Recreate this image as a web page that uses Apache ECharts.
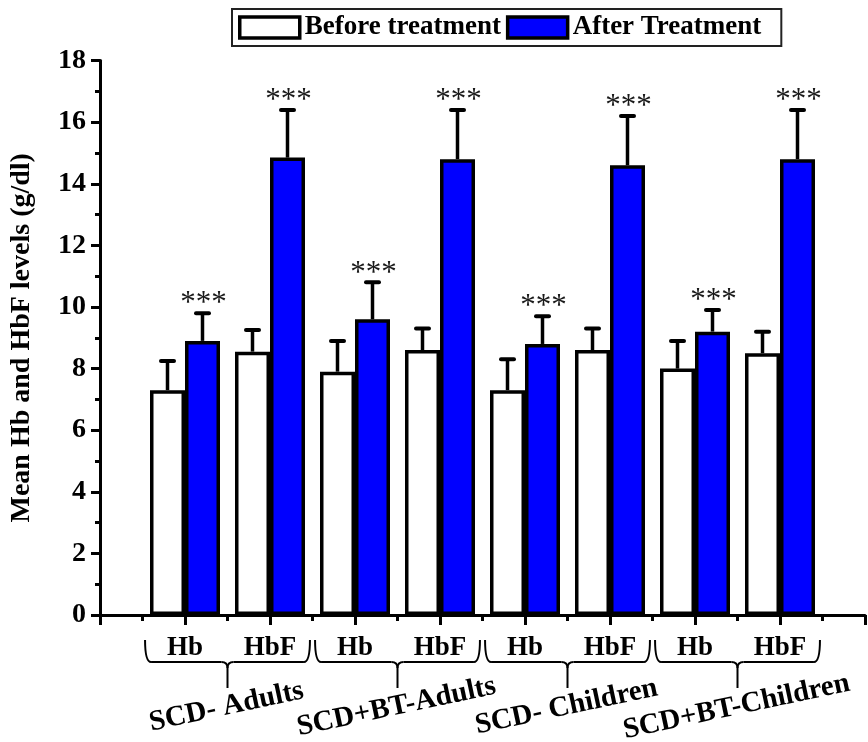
<!DOCTYPE html>
<html>
<head>
<meta charset="utf-8">
<script src="https://cdn.jsdelivr.net/npm/echarts@6/dist/echarts.min.js"></script>
<style>html,body{margin:0;padding:0;background:#fff}#c{width:868px;height:742px}</style>
</head>
<body>
<div id="c"></div>
<script>
const categories = ['Hb', 'HbF', 'Hb', 'HbF', 'Hb', 'HbF', 'Hb', 'HbF'];
const groupNames = ['SCD- Adults', 'SCD+BT-Adults', 'SCD- Children', 'SCD+BT-Children'];
const seriesNames = ['Before treatment', 'After Treatment'];
const beforeMean = [7.3, 8.55, 7.9, 8.6, 7.3, 8.6, 8.0, 8.5];
const beforeErrTop = [8.25, 9.25, 8.9, 9.3, 8.3, 9.3, 8.9, 9.2];
const afterMean = [8.9, 14.85, 9.6, 14.8, 8.8, 14.6, 9.2, 14.8];
const afterErrTop = [9.8, 16.4, 10.8, 16.4, 9.7, 16.2, 9.9, 16.4];
const significance = ['***', '***', '***', '***', '***', '***', '***', '***'];
const yMin = 0, yMax = 18, yStep = 2;

const FONT = '"Liberation Serif", "Times New Roman", serif';
const BW = 35;

const chart = echarts.init(document.getElementById('c'));

function errRenderer(offset, withStars) {
  return function (params, api) {
    const x = api.value(0), m = api.value(1), t = api.value(2);
    const pb = api.coord([x, m]);
    const pt = api.coord([x, t]);
    const cx = pb[0] + offset;
    const children = [
      { type: 'line', shape: { x1: cx, y1: pb[1], x2: cx, y2: pt[1] },
        style: { stroke: '#000', lineWidth: 3.5 } },
      { type: 'line', shape: { x1: cx - 6.5, y1: pt[1], x2: cx + 6.5, y2: pt[1] },
        style: { stroke: '#000', lineWidth: 4, lineCap: 'round' } }
    ];
    if (withStars) {
      children.push({ type: 'text', x: cx + 1, y: pt[1] - 9,
        style: { text: significance[params.dataIndex], font: '31px ' + FONT, fill: '#1a1a1a',
          textAlign: 'center', textVerticalAlign: 'middle' } });
    }
    return { type: 'group', children };
  };
}

function braceRenderer(params, api) {
  const c = api.value(0);
  const p0 = api.coord([c - 0.97, 0]);
  const p1 = api.coord([c + 0.97, 0]);
  const pm = api.coord([c, 0]);
  const y0 = pm[1];
  const yt = y0 + 25, yh = y0 + 47, ytip = y0 + 73;
  const x0 = p0[0], x1 = p1[0], xm = pm[0];
  const st = { stroke: '#000', lineWidth: 2, fill: null };
  const r = 6;
  return { type: 'group', children: [
    { type: 'bezierCurve', shape: { x1: x0, y1: yt, x2: x0 + r, y2: yh, cpx1: x0, cpy1: yh }, style: st },
    { type: 'line', shape: { x1: x0 + r, y1: yh, x2: xm - r, y2: yh }, style: st },
    { type: 'bezierCurve', shape: { x1: xm - r, y1: yh, x2: xm, y2: yh + r, cpx1: xm, cpy1: yh }, style: st },
    { type: 'bezierCurve', shape: { x1: xm + r, y1: yh, x2: xm, y2: yh + r, cpx1: xm, cpy1: yh }, style: st },
    { type: 'line', shape: { x1: xm, y1: yh + r, x2: xm, y2: ytip }, style: st },
    { type: 'line', shape: { x1: xm + r, y1: yh, x2: x1 - r, y2: yh }, style: st },
    { type: 'bezierCurve', shape: { x1: x1 - r, y1: yh, x2: x1, y2: yt, cpx1: x1, cpy1: yh }, style: st },
    { type: 'text', x: xm - 1, y: ytip + 19, rotation: 12 * Math.PI / 180,
      style: { text: groupNames[params.dataIndex], font: 'bold 29px ' + FONT, fill: '#000',
        textAlign: 'center', textVerticalAlign: 'middle' } }
  ] };
}

const option = {
  backgroundColor: '#fff',
  animation: false,
  legend: {
    data: seriesNames,
    left: 232, top: 9,
    icon: 'rect',
    itemWidth: 60, itemHeight: 21, itemGap: 5,
    padding: [5, 20, 5, 6],
    borderColor: '#222', borderWidth: 2,
    itemStyle: { borderColor: '#000', borderWidth: 3.5 },
    textStyle: { fontFamily: FONT, fontWeight: 'bold', fontSize: 27, color: '#000' }
  },
  grid: { left: 100, right: -9.6, top: 60.6, bottom: 127, containLabel: false },
  xAxis: {
    type: 'value', min: 0, max: 9, interval: 1,
    splitLine: { show: false },
    axisLine: { show: true, onZero: false, lineStyle: { color: '#000', width: 3 } },
    axisTick: { show: true, inside: false, length: 10, lineStyle: { color: '#000', width: 3 } },
    minorTick: { show: true, splitNumber: 2, length: 6, lineStyle: { color: '#000', width: 3 } },
    axisLabel: { margin: 20, fontFamily: FONT, fontWeight: 'bold', fontSize: 27, color: '#000',
      formatter: v => categories[v - 1] || '', showMinLabel: true, showMaxLabel: true }
  },
  yAxis: {
    type: 'value', min: yMin, max: yMax, interval: yStep,
    name: 'Mean Hb and HbF levels (g/dl)', nameLocation: 'middle', nameGap: 64, nameRotate: 90,
    nameTextStyle: { fontFamily: FONT, fontWeight: 'bold', fontSize: 28, color: '#000' },
    splitLine: { show: false },
    axisLine: { show: true, lineStyle: { color: '#000', width: 3 } },
    axisTick: { show: true, length: 9, lineStyle: { color: '#000', width: 3 } },
    minorTick: { show: true, splitNumber: 2, length: 5, lineStyle: { color: '#000', width: 3 } },
    axisLabel: { margin: 14, fontFamily: FONT, fontWeight: 'bold', fontSize: 28, color: '#000' }
  },
  series: [
    { name: seriesNames[0], type: 'bar', barWidth: BW, barGap: '0%',
      itemStyle: { color: '#fff', borderColor: '#000', borderWidth: 3.5 },
      data: categories.map((c, i) => [i + 1, beforeMean[i]]), z: 2 },
    { name: seriesNames[1], type: 'bar', barWidth: BW, barGap: '0%',
      itemStyle: { color: '#0000ff', borderColor: '#000', borderWidth: 3.5 },
      data: categories.map((c, i) => [i + 1, afterMean[i]]), z: 2 },
    { name: 'errBefore', type: 'custom', renderItem: errRenderer(-BW / 2, false), z: 3,
      encode: { x: 0, y: [1, 2] },
      data: categories.map((c, i) => [i + 1, beforeMean[i], beforeErrTop[i]]) },
    { name: 'errAfter', type: 'custom', renderItem: errRenderer(BW / 2, true), z: 3,
      encode: { x: 0, y: [1, 2] },
      data: categories.map((c, i) => [i + 1, afterMean[i], afterErrTop[i]]) },
    { name: 'braces', type: 'custom', renderItem: braceRenderer, z: 3, silent: true,
      encode: { x: 0, y: 1 },
      data: groupNames.map((g, i) => [2 * i + 1.5, 0]) }
  ]
};
chart.setOption(option);
</script>
</body>
</html>
